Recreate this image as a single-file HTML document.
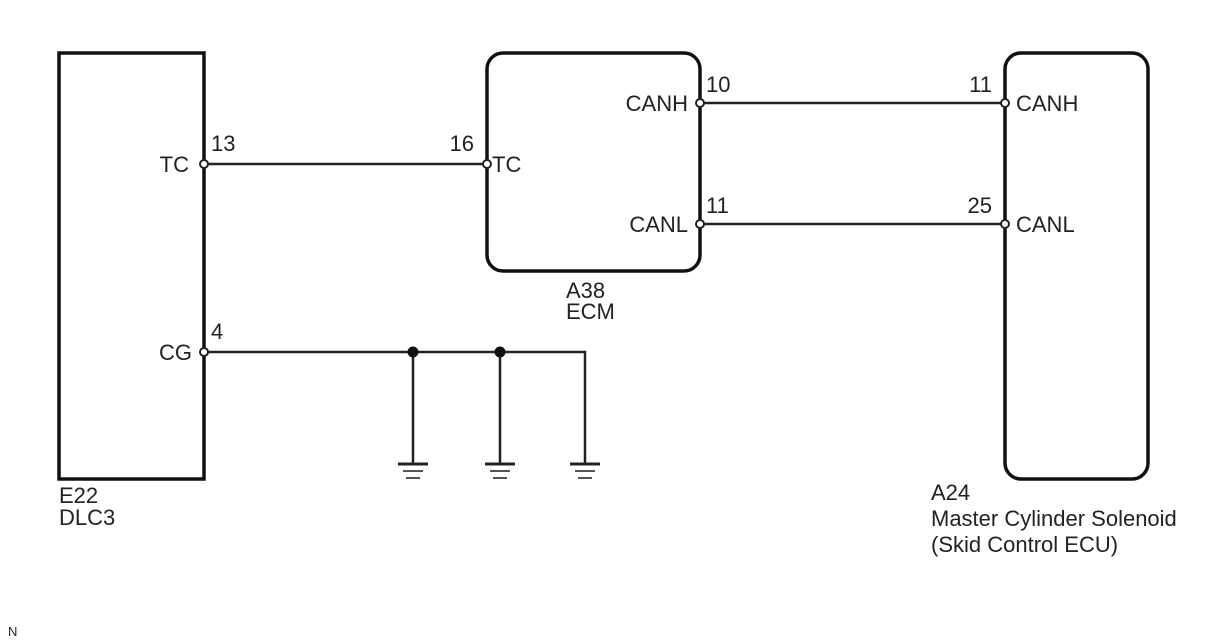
<!DOCTYPE html>
<html><head><style>body{margin:0;background:#fff}svg{display:block}text{font-family:"Liberation Sans",sans-serif;font-size:22px;fill:#222}</style></head><body>
<svg width="1208" height="644" viewBox="0 0 1208 644">
<g fill="none" stroke="#111" stroke-width="3.5">
<rect x="59" y="53" width="145" height="426"/>
<rect x="487" y="53" width="213" height="218" rx="16"/>
<rect x="1005" y="53" width="143" height="426" rx="16"/>
</g>
<g stroke="#222" stroke-width="2.5" fill="none">
<line x1="204" y1="164" x2="487" y2="164"/>
<line x1="700" y1="103" x2="1005" y2="103"/>
<line x1="700" y1="224" x2="1005" y2="224"/>
<polyline points="204,352 585,352 585,463"/>
<line x1="413" y1="352" x2="413" y2="463"/>
<line x1="500" y1="352" x2="500" y2="463"/>
</g>
<g fill="#111"><circle cx="413" cy="352" r="5.5"/><circle cx="500" cy="352" r="5.5"/></g>
<g stroke="#222">
<g stroke-width="3"><line x1="398" y1="464" x2="428" y2="464"/><line x1="485" y1="464" x2="515" y2="464"/><line x1="570" y1="464" x2="600" y2="464"/></g>
<g stroke-width="2" stroke="#555"><line x1="403" y1="471" x2="423" y2="471"/><line x1="490" y1="471" x2="510" y2="471"/><line x1="575" y1="471" x2="595" y2="471"/>
<line x1="406" y1="478" x2="420" y2="478"/><line x1="493" y1="478" x2="507" y2="478"/><line x1="578" y1="478" x2="592" y2="478"/></g>
</g>
<g fill="#fff" stroke="#222" stroke-width="2">
<circle cx="204" cy="164" r="4"/><circle cx="204" cy="352" r="4"/><circle cx="487" cy="164" r="4"/>
<circle cx="700" cy="103" r="4"/><circle cx="700" cy="224" r="4"/><circle cx="1005" cy="103" r="4"/><circle cx="1005" cy="224" r="4"/>
</g>
<g text-anchor="end">
<text x="189" y="172">TC</text><text x="192" y="360">CG</text>
<text x="474" y="151">16</text>
<text x="688" y="111">CANH</text><text x="688" y="232">CANL</text>
<text x="992" y="92">11</text><text x="992" y="213">25</text>
</g>
<text x="211" y="151">13</text>
<text x="211" y="339">4</text>
<text x="492" y="172">TC</text>
<text x="706" y="92">10</text>
<text x="706" y="213">11</text>
<text x="1016" y="111">CANH</text>
<text x="1016" y="232">CANL</text>
<text x="566" y="298">A38</text><text x="566" y="319">ECM</text>
<text x="59" y="503">E22</text><text x="59" y="525">DLC3</text>
<text x="931" y="500">A24</text><text x="931" y="526">Master Cylinder Solenoid</text><text x="931" y="552">(Skid Control ECU)</text>
<text x="8" y="636" style="font-size:13px">N</text>
</svg>
</body></html>
